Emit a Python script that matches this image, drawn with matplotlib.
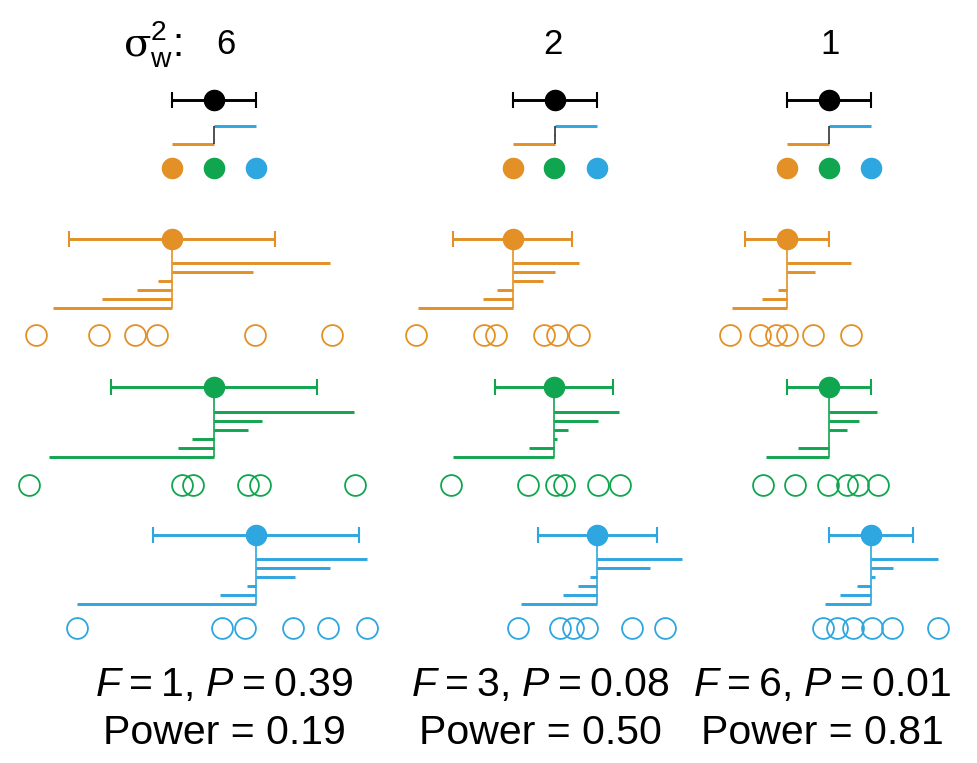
import numpy as np
import matplotlib.pyplot as plt

plt.rcParams['font.family'] = ['Liberation Sans', 'DejaVu Sans']
plt.rcParams['mathtext.fontset'] = 'custom'
plt.rcParams['mathtext.rm'] = 'DejaVu Serif'
plt.rcParams['mathtext.sf'] = 'Liberation Sans'
plt.rcParams['mathtext.it'] = 'Liberation Sans:italic'

# within-group variance per panel and the stats printed underneath
sigma_w2 = [6, 2, 1]
F_vals = [1, 3, 6]
P_vals = ['0.39', '0.08', '0.01']
power = ['0.19', '0.50', '0.81']
between_sd = 1.0

# deviation bar ends (one row per panel)
orange_vals = [[6.19, 7.36, 8.19, 8.69, 10.95, 12.79],
               [6.79, 8.33, 8.67, 9.76, 10.05, 10.62],
               [7.71, 8.43, 8.81, 9.02, 9.69, 10.55]]
green_vals = [[6.10, 9.17, 9.50, 10.83, 11.17, 13.36],
              [7.62, 9.43, 10.10, 10.36, 11.07, 11.57],
              [8.52, 9.29, 10.02, 10.45, 10.74, 11.17]]
blue_vals = [[6.76, 10.17, 10.81, 11.95, 12.79, 13.67],
             [9.24, 10.24, 10.60, 10.88, 12.31, 13.07],
             [9.93, 10.29, 10.69, 11.12, 11.55, 12.62]]

# open circles (sample points)
orange_dots = [[5.79, 7.29, 8.14, 8.67, 11.00, 12.83],
               [6.74, 8.36, 8.64, 9.79, 10.10, 10.62],
               [7.67, 8.38, 8.76, 9.02, 9.64, 10.55]]
green_dots = [[5.62, 9.26, 9.52, 10.83, 11.12, 13.38],
              [7.57, 9.40, 10.07, 10.26, 11.07, 11.60],
              [8.45, 9.21, 10.00, 10.45, 10.71, 11.19]]
blue_dots = [[6.76, 10.21, 10.76, 11.90, 12.74, 13.67],
             [9.17, 10.17, 10.48, 10.81, 11.88, 12.67],
             [9.88, 10.21, 10.60, 11.05, 11.52, 12.62]]

ORANGE, GREEN, BLUE = '#E39026', '#10A54F', '#2EA6E0'

# layout (pixels)
W, H = 977, 763
scale = 42.0                     # px per unit
centers = [213, 553, 828]
bounds = [(0, 390), (390, 700), (700, 977)]
# color, bars, dots, y of mean, y of lowest bar, y of circles
groups = [(ORANGE, orange_vals, orange_dots, 239, 308, 335),
          (GREEN, green_vals, green_dots, 387, 457, 485),
          (BLUE, blue_vals, blue_dots, 535, 604, 628)]
bar_gap = 9

fig = plt.figure(figsize=(W / 100, H / 100), dpi=100)

for i in range(3):
    x0, x1 = bounds[i]
    ax = fig.add_axes([x0 / W, 0, (x1 - x0) / W, 1])
    ax.set_xlim(10 + (x0 - centers[i]) / scale, 10 + (x1 - centers[i]) / scale)
    ax.set_ylim(H, 0)
    ax.axis('off')

    means = []
    for color, vals, dots, y_mean, y_low, y_dots in groups:
        v = np.sort(vals[i])
        m = v.mean()
        means.append(m)
        ys = y_low - np.arange(len(v)) * bar_gap
        ax.hlines(ys, m, v, color=color, lw=2.1)
        ax.vlines(m, y_mean, y_low, color=color, lw=1.2)
        ax.errorbar(m, y_mean, xerr=np.sqrt(sigma_w2[i]), fmt='o', color=color,
                    ms=14.5, capsize=6, elinewidth=2.1, capthick=1.5)
        ax.plot(dots[i], [y_dots] * len(dots[i]), 'o', mfc='none', mec=color,
                ms=15, mew=1.3)

    grand = np.mean(means)
    ax.errorbar(grand, 100, xerr=between_sd, fmt='o', color='black',
                ms=14.5, capsize=6, elinewidth=2.1, capthick=1.5)
    ax.hlines([144, 135, 126], grand, means, colors=[ORANGE, GREEN, BLUE], lw=2.1)
    ax.vlines(grand, 126, 144, color='#333333', lw=1.2)
    for m, c in zip(means, [ORANGE, GREEN, BLUE]):
        ax.plot(m, 168, 'o', color=c, ms=14.5)

# titles
fig.text(182 / W, 1 - 44 / H, r'$\mathrm{\sigma}_\mathsf{w}^\mathsf{2}$:',
         ha='right', va='center', fontsize=29)
title_x = [226, 553, 830]
for i in range(3):
    fig.text(title_x[i] / W, 1 - 45 / H, str(sigma_w2[i]),
             ha='center', va='center', fontsize=25)

# stats underneath
stat_x = [224, 540, 822]
for i in range(3):
    fig.text(stat_x[i] / W, 1 - 685 / H,
             '$F$\u2009=\u2009%d, $P$\u2009=\u2009%s' % (F_vals[i], P_vals[i]),
             ha='center', va='center', fontsize=29.5)
    fig.text(stat_x[i] / W, 1 - 733 / H, 'Power = %s' % power[i],
             ha='center', va='center', fontsize=29.5)

fig.savefig('out.png', dpi=100)
